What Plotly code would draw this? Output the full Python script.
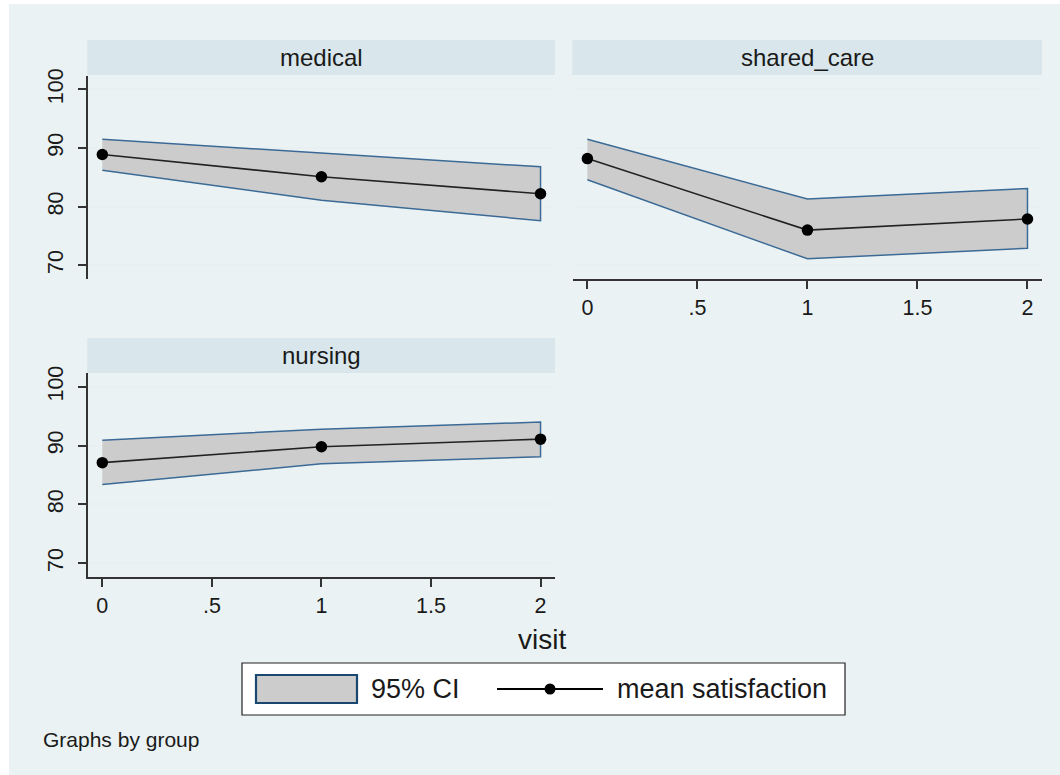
import plotly.graph_objects as go

# ---- data ----
groups = ["medical", "shared_care", "nursing"]
visits = [0, 1, 2]
mean_medical = [88.9, 85.1, 82.2]
upper_medical = [91.5, 89.1, 86.8]
lower_medical = [86.2, 81.1, 77.6]
mean_shared = [88.2, 76.0, 77.9]
upper_shared = [91.5, 81.3, 83.1]
lower_shared = [84.6, 71.1, 72.9]
mean_nursing = [87.1, 89.8, 91.1]
upper_nursing = [90.9, 92.8, 94.0]
lower_nursing = [83.4, 86.9, 88.1]
y_ticks = [70, 80, 90, 100]
x_ticks = [0, 0.5, 1, 1.5, 2]
x_ticklabels = ["0", ".5", "1", "1.5", "2"]

W, H = 1060, 775
BG = "#eaf2f3"
STRIP = "#d9e6eb"
FONT = "Liberation Sans, Arial, sans-serif"
TXT = "#1a1a1a"
BAND_EDGE = "#3b6a96"


def px(x):
    return x / W


def py(y):
    return 1 - y / H


series = [
    (mean_medical, upper_medical, lower_medical, "x", "y"),
    (mean_shared, upper_shared, lower_shared, "x2", "y2"),
    (mean_nursing, upper_nursing, lower_nursing, "x3", "y3"),
]

fig = go.Figure()
for mean, up, lo, xa, ya in series:
    fig.add_trace(go.Scatter(
        x=visits + visits[::-1], y=up + lo[::-1], fill="toself",
        fillcolor="#cccccc", line=dict(color=BAND_EDGE, width=1.5),
        mode="lines", xaxis=xa, yaxis=ya, showlegend=False, hoverinfo="skip"))
    fig.add_trace(go.Scatter(
        x=visits, y=mean, mode="lines+markers",
        line=dict(color="#222222", width=1.6),
        marker=dict(color="black", size=11.5),
        xaxis=xa, yaxis=ya, showlegend=False))

panels = {
    "medical": dict(x0=88.3, x1=555, y0=76, y1=279.3, strip=(40, 75)),
    "shared_care": dict(x0=573.3, x1=1042, y0=76, y1=279.3, strip=(40, 75)),
    "nursing": dict(x0=88.3, x1=555, y0=373.3, y1=577.3, strip=(338, 373)),
}

xr = [-0.064, 2.066]
yr = [67.6, 102.3]

common_y = dict(range=yr, tickvals=y_ticks, tickangle=-90, ticks="outside",
                ticklen=8, tickcolor="#333333", tickwidth=1.5,
                gridcolor="#e8f0f2", gridwidth=1.5, zeroline=False,
                tickfont=dict(size=21.5, color=TXT, family=FONT),
                ticklabelstandoff=7, automargin=False)
common_x = dict(range=xr, tickvals=x_ticks, ticktext=x_ticklabels,
                ticks="outside", ticklen=8, tickcolor="#333333", tickwidth=1.5,
                showgrid=False, zeroline=False,
                tickfont=dict(size=21.5, color=TXT, family=FONT),
                ticklabelstandoff=0, automargin=False)

p = panels["medical"]
fig.update_layout(
    xaxis=dict(common_x, domain=[px(p["x0"]), px(p["x1"])], anchor="y",
               showticklabels=False, ticks="", showline=False),
    yaxis=dict(common_y, domain=[py(p["y1"]), py(p["y0"])], anchor="x",
               showline=True, linecolor="#333333", linewidth=2),
)
p = panels["shared_care"]
fig.update_layout(
    xaxis2=dict(common_x, domain=[px(p["x0"]), px(p["x1"])], anchor="y2",
                showline=True, linecolor="#333333", linewidth=2),
    yaxis2=dict(common_y, domain=[py(p["y1"]), py(p["y0"])], anchor="x2",
                showticklabels=False, ticks="", showline=False),
)
p = panels["nursing"]
fig.update_layout(
    xaxis3=dict(common_x, domain=[px(p["x0"]), px(p["x1"])], anchor="y3",
                showline=True, linecolor="#333333", linewidth=2),
    yaxis3=dict(common_y, domain=[py(p["y1"]), py(p["y0"])], anchor="x3",
                showline=True, linecolor="#333333", linewidth=2),
)

shapes = [
    # background region (white border at top/left as in reference)
    dict(type="rect", xref="paper", yref="paper", x0=px(9), x1=1.0,
         y0=0, y1=py(4), fillcolor=BG, line=dict(width=0), layer="below"),
]
annotations = []
for name in groups:
    p = panels[name]
    s0, s1 = p["strip"]
    shapes.append(dict(type="rect", xref="paper", yref="paper",
                       x0=px(p["x0"] - 1), x1=px(p["x1"]), y0=py(s1), y1=py(s0),
                       fillcolor=STRIP, line=dict(width=0), layer="below"))
    annotations.append(dict(text=name, xref="paper", yref="paper",
                            x=(px(p["x0"]) + px(p["x1"])) / 2,
                            y=(py(s0) + py(s1)) / 2, showarrow=False,
                            xanchor="center", yanchor="middle",
                            font=dict(size=24, color=TXT, family=FONT)))

# legend box (drawn manually to match reference)
shapes += [
    dict(type="rect", xref="paper", yref="paper", x0=px(242), x1=px(845),
         y0=py(715), y1=py(663), fillcolor="white",
         line=dict(color="#222222", width=1.2)),
    dict(type="rect", xref="paper", yref="paper", x0=px(256), x1=px(357),
         y0=py(703), y1=py(675), fillcolor="#cccccc",
         line=dict(color="#1a476f", width=2.2)),
    dict(type="line", xref="paper", yref="paper", x0=px(497), x1=px(603),
         y0=py(689), y1=py(689), line=dict(color="black", width=2.2)),
    dict(type="circle", xref="paper", yref="paper", x0=px(544.5), x1=px(555.5),
         y0=py(694.5), y1=py(683.5), fillcolor="black",
         line=dict(color="black", width=0)),
]
annotations += [
    dict(text="95% CI", xref="paper", yref="paper", x=px(369), y=py(689),
         xanchor="left", yanchor="middle", showarrow=False,
         font=dict(size=27, color=TXT, family=FONT)),
    dict(text="mean satisfaction", xref="paper", yref="paper", x=px(615),
         y=py(689), xanchor="left", yanchor="middle", showarrow=False,
         font=dict(size=27, color=TXT, family=FONT)),
    dict(text="visit", xref="paper", yref="paper", x=px(542), y=py(639),
         xanchor="center", yanchor="middle", showarrow=False,
         font=dict(size=28, color=TXT, family=FONT)),
    dict(text="Graphs by group", xref="paper", yref="paper", x=px(41),
         y=py(739), xanchor="left", yanchor="middle", showarrow=False,
         font=dict(size=21, color=TXT, family=FONT)),
]

fig.update_layout(
    width=W, height=H,
    margin=dict(l=0, r=0, t=0, b=0, pad=0, autoexpand=False),
    paper_bgcolor="white", plot_bgcolor="white",
    shapes=shapes, annotations=annotations, showlegend=False,
    font=dict(family=FONT, color=TXT),
)

fig.write_html(
    "out.html",
    config={"displayModeBar": False},
    post_script="document.body.style.margin='0';document.body.style.padding='0';",
)
